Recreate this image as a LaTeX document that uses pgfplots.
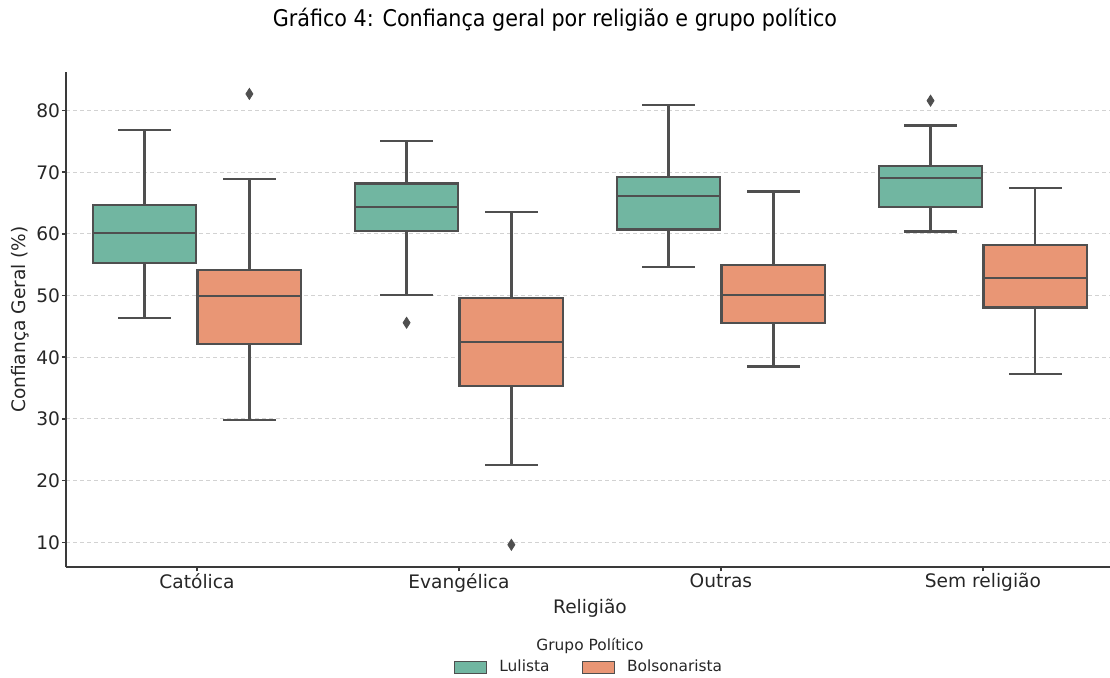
\documentclass[border=0pt]{standalone}
\usepackage{fontspec}
\setmainfont{DejaVu Sans}
\newfontfamily\titlefont{DejaVu Sans Condensed}
\usepackage{pgfplots}
\pgfplotsset{compat=1.18}
\usepgfplotslibrary{statistics}

\definecolor{lulista}{HTML}{71B6A1}
\definecolor{bolso}{HTML}{E99675}
\definecolor{edge}{HTML}{4F4F4F}
\definecolor{gridc}{HTML}{D2D2D2}
\definecolor{spine}{HTML}{3A3A3A}
\definecolor{txt}{HTML}{262626}

\pgfplotsset{
  common/.style={draw=edge, line width=1.15pt, solid, forget plot,
    mark=diamond*, mark size=2.75pt,
    mark options={fill=edge, draw=edge, line width=0.4pt, xscale=0.85}},
  lbox/.style={common, fill=lulista},
  bbox/.style={common, fill=bolso},
}

\begin{document}
\begin{tikzpicture}[x=1pt,y=1pt]
\useasboundingbox (-33,-54.85) rectangle (522,283.65);
\begin{axis}[
  at={(0,0)}, anchor=south west,
  scale only axis, width=522pt, height=247.8pt,
  xmin=-0.5, xmax=3.485, ymin=5.95, ymax=86.3,
  axis x line*=bottom, axis y line*=left,
  axis line style={spine, line width=1pt, -},
  xtick={0,1,2,3},
  xticklabels={Católica,Evangélica,Outras,Sem religião},
  ytick={10,20,...,80},
  tick align=outside, major tick length=2pt,
  tick style={spine, line width=0.8pt},
  ymajorgrids,
  grid style={gridc, line width=0.5pt, dash pattern=on 2pt off 1.5pt},
  tick label style={font=\fontsize{9.3}{11}\selectfont, text=txt},
  yticklabel style={xshift=2.5pt},
  xticklabel style={yshift=2.5pt},
  /pgf/number format/assume math mode=true,
  clip=false,
  boxplot/draw direction=y,
  boxplot/box extend=0.395,
  boxplot/whisker extend=0.2,
  legend style={at={(0.5019,-0.2022)}, anchor=center, draw=none, fill=none,
    font=\fontsize{7.7}{9}\selectfont, text=txt,
    /tikz/every even column/.append style={column sep=14pt}},
  legend columns=2,
]

% Católica
\addplot[lbox, boxplot prepared={draw position=-0.2,
  lower whisker=46.4, lower quartile=55.25, median=60.2,
  upper quartile=64.7, upper whisker=76.9}] coordinates {};
\addplot[bbox, boxplot prepared={draw position=0.2,
  lower whisker=29.8, lower quartile=42.2, median=49.9,
  upper quartile=54.2, upper whisker=68.9}]
  table[row sep=\\, y index=0] {y\\ 82.7\\};

% Evangélica
\addplot[lbox, boxplot prepared={draw position=0.8,
  lower whisker=50.1, lower quartile=60.5, median=64.4,
  upper quartile=68.2, upper whisker=75.1}]
  table[row sep=\\, y index=0] {y\\ 45.6\\};
\addplot[bbox, boxplot prepared={draw position=1.2,
  lower whisker=22.5, lower quartile=35.35, median=42.5,
  upper quartile=49.6, upper whisker=63.5}]
  table[row sep=\\, y index=0] {y\\ 9.6\\};

% Outras
\addplot[lbox, boxplot prepared={draw position=1.8,
  lower whisker=54.6, lower quartile=60.7, median=66.2,
  upper quartile=69.2, upper whisker=80.9}] coordinates {};
\addplot[bbox, boxplot prepared={draw position=2.2,
  lower whisker=38.5, lower quartile=45.6, median=50.1,
  upper quartile=55.0, upper whisker=66.9}] coordinates {};

% Sem religião
\addplot[lbox, boxplot prepared={draw position=2.8,
  lower whisker=60.4, lower quartile=64.4, median=69.1,
  upper quartile=71.0, upper whisker=77.6}]
  table[row sep=\\, y index=0] {y\\ 81.6\\};
\addplot[bbox, boxplot prepared={draw position=3.2,
  lower whisker=37.3, lower quartile=48.05, median=52.9,
  upper quartile=58.2, upper whisker=67.4}] coordinates {};

% legend
\addlegendimage{legend image code/.code={
  \draw[fill=lulista, draw=edge, line width=0.6pt] (0pt,-3pt) rectangle (16pt,3pt);
  \path[draw=none, fill=none] (0pt,0pt) -- (20.5pt,0pt);}}
\addlegendentry{Lulista}
\addlegendimage{legend image code/.code={
  \draw[fill=bolso, draw=edge, line width=0.6pt] (0pt,-3pt) rectangle (16pt,3pt);
  \path[draw=none, fill=none] (0pt,0pt) -- (20.5pt,0pt);}}
\addlegendentry{Bolsonarista}

\node[anchor=base, text=txt, font=\fontsize{7.7}{9}\selectfont]
  at (axis description cs:0.5019,-0.1683) {Grupo Político};
\node[anchor=base, text=txt, font=\fontsize{9.3}{11}\selectfont]
  at (axis description cs:0.5019,0) [yshift=-22.85pt] {Religião};
\node[rotate=90, text=txt, font=\fontsize{9.3}{11}\selectfont]
  at ([xshift=-23pt]axis description cs:0,0.5) {Confiança Geral (\%)};
\end{axis}
\node[font=\titlefont\fontsize{11.5}{13}\selectfont] at (244.5,273.65)
  {Gráfico 4: Confiança geral por religião e grupo político};
\end{tikzpicture}
\end{document}
